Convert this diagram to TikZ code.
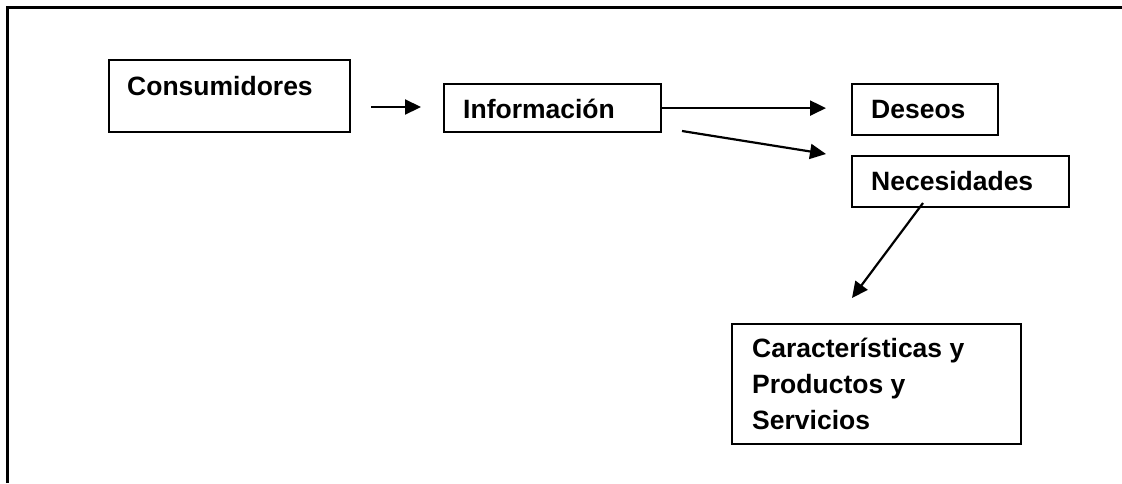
\documentclass[tikz,border=0pt]{standalone}
\usepackage{fontspec}
\setmainfont{Liberation Sans}
\usetikzlibrary{arrows.meta}
\tikzset{
  frame/.style={line width=2.6pt},
  box/.style={draw, line width=2.2pt, rectangle, inner sep=0pt, anchor=north west},
  lbl/.style={anchor=base west, inner sep=0pt, font=\fontsize{26.5}{36}\selectfont\bfseries},
  arr/.style={line width=2.2pt, -{Triangle[length=16pt,width=15pt]}},
}
\begin{document}
\begin{tikzpicture}[x=1pt,y=-1pt]
\useasboundingbox (0,0) rectangle (1122,483);
% open frame: left side and top edge
\draw[frame] (7.5,483) -- (7.5,7.5) -- (1122,7.5);

% boxes
\node[box, minimum width=241pt, minimum height=72pt] (cons) at (108,59) {};
\node[box, minimum width=217pt, minimum height=48pt] (info) at (443,83) {};
\node[box, minimum width=146pt, minimum height=51pt] (des) at (851,83) {};
\node[box, minimum width=217pt, minimum height=51pt] (nec) at (851,155) {};
\node[box, minimum width=289pt, minimum height=120pt] (car) at (731,323) {};

% labels
\node[lbl] (consT) at (127,95) {Consumidores};
\node[lbl] (infoT) at (463,118) {Información};
\node[lbl] (desT) at (871,118) {Deseos};
\node[lbl] (necT) at (871,190) {Necesidades};
\node[lbl] (carT1) at (752,357) {Características y};
\node[lbl] (carT2) at (752,393) {Productos y};
\node[lbl] (carT3) at (752,429) {Servicios};

% free arrow ends
\coordinate (a1s) at (371,107);
\coordinate (a1e) at (421,107);
\coordinate (a3s) at (682,131);
\coordinate (a3e) at (826,154);
\coordinate (a4s) at (923,203);
\coordinate (a4e) at (852,298);
\coordinate (a2e) at (826,107);

% connectors
\draw[arr] (a1s) -- (a1e);
\draw[arr] (info.east) -- (info.east -| a2e);
\draw[arr] (a3s) -- (a3e);
\draw[arr] (a4s) -- (a4e);
\end{tikzpicture}
\end{document}
